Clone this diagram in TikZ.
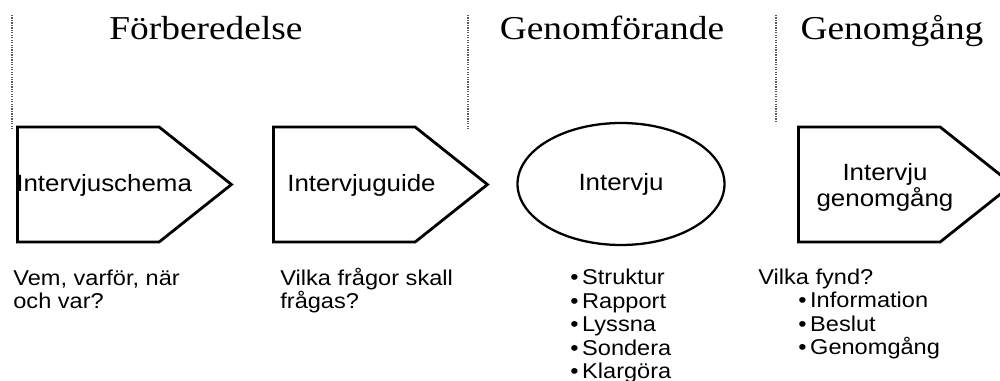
\documentclass[tikz,border=0pt]{standalone}
\usepackage{fontspec}
\setmainfont[FakeStretch=1.1]{Liberation Sans}
\newfontfamily\headfont[FakeStretch=1.12]{Liberation Serif}
\usetikzlibrary{shapes.symbols,shapes.geometric}

\begin{document}
\begin{tikzpicture}

      \tikzset{arrowbox/.style={draw, signal, signal to=east, signal pointer angle=77, minimum width=4.28cm, minimum height=2.3cm, inner sep=0pt, line width=1.6pt, anchor=west},
        roundbox/.style={draw, ellipse, minimum width=4.14cm, minimum height=2.44cm, line width=1.3pt, font=\fontsize{13.4}{15.3}\selectfont},
        boxtext/.style={inner sep=0pt, font=\fontsize{13.4}{15.3}\selectfont},
        note/.style={inner sep=0pt, anchor=base west, align=left, font=\fontsize{12.2}{13.6}\selectfont},
        phase/.style={inner sep=0pt, anchor=base, font=\headfont\fontsize{19}{22}\selectfont},
        divider/.style={gray!70!black, line width=0.8pt, dash pattern=on 0.7pt off 0.7pt}}
      \useasboundingbox (0,0) rectangle (20,7.62);
%% Phases
      	\node[phase] (prep) at (4.12,6.82) {Förberedelse};
      	\node[phase] (exec) at (12.24,6.82) {Genomförande};
      	\node[phase] (review) at (17.84,6.82) {Genomgång};
%Dividers
      	\coordinate (d1top) at (0.24,7.32);  \coordinate (d1bot) at (0.24,5.02);
      	\coordinate (d2top) at (9.36,7.32);  \coordinate (d2bot) at (9.36,5.02);
      	\coordinate (d3top) at (15.52,7.32); \coordinate (d3bot) at (15.52,5.18);
		\draw[divider] (d1top) -- (d1bot);
		\draw[divider] (d2top) -- (d2bot);
		\draw[divider] (d3top) -- (d3bot);
%% Steps
      	\node[arrowbox] (schema) at (0.32,3.93) {};
      	\node[arrowbox] (guide) at (5.44,3.93) {};
      	\node[roundbox] (interview) at (12.42,3.94) {Intervju};
      	\node[arrowbox] (debrief) at (15.94,3.93) {};
      	\node[boxtext, anchor=base west] (schematext) at (0.32,3.78) {Intervjuschema};
      	\node[boxtext, anchor=base west] (guidetext) at (5.74,3.78) {Intervjuguide};
      	\node[boxtext, anchor=base, align=center] (debrieftext) at (17.7,3.48) {Intervju\\genomgång};
%Notes (two-line nodes sit on their last line)
      	\node[note] (schemanote) at (0.26,1.44) {Vem, varför, när\\och var?};
      	\node[note] (guidenote) at (5.6,1.44) {Vilka frågor skall\\frågas?};
      	\node[note] (debriefnote) at (15.16,1.92) {Vilka fynd?};
		\foreach \w [count=\i] in {Struktur, Rapport, Lyssna, Sondera, Klargöra}
			\node[note] (item\i) at (11.4,{1.92-(\i-1)*0.47}) {\textbullet\,\w};
		\foreach \w [count=\i] in {Information, Beslut, Genomgång}
			\node[note] (find\i) at (15.96,{1.46-(\i-1)*0.47}) {\textbullet\,\w};

	\end{tikzpicture}
\end{document}
